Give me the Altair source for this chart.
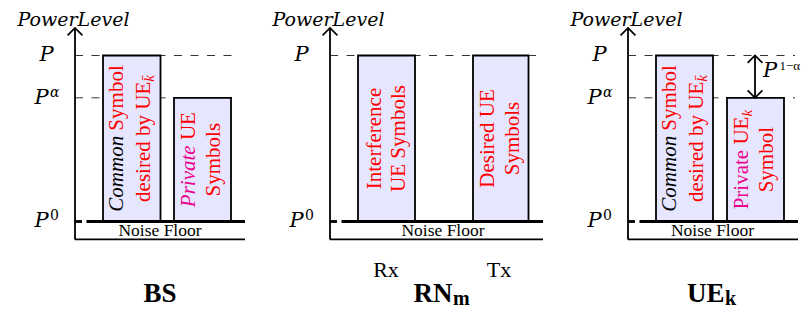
import altair as alt
import pandas as pd

# ---------------- data ----------------
panels = ["BS", "RN", "UE"]
axis_x = [75, 330, 628]          # position of each panel's power axis
floor_end = [245, 543, 798]      # right end of noise-floor lines
dash_end = [240, 543, 795]       # right end of dashed level lines

level_vals = {"P0": 0.0, "Palpha": 0.745, "P": 1.0}
floor_bottom = -0.108
axis_top = 1.166

bar_x1 = [103, 174, 358, 473, 656, 727]
bar_x2 = [160.5, 231, 415, 528.5, 713, 784]
bar_level = [1.0, 0.745, 1.0, 1.0, 1.0, 0.745]

# dashed level lines (panel index, level)
dash_panel = [0, 0, 1, 2, 2]
dash_level = [1.0, 0.745, 1.0, 1.0, 0.745]

# level labels on the axes
label_panel = [0, 0, 0, 1, 1, 2, 2, 2]
label_level = [1.0, 0.745, 0.0, 1.0, 0.0, 1.0, 0.745, 0.0]
label_sup = ["", "α", "0", "", "0", "", "α", "0"]

noise_x = [160, 443, 712.5]
title_main = ["BS", "RN", "UE"]
title_sub = ["", "m", "k"]
title_x = [160, 452.5, 724.5]
rxtx_labels = ["Rx", "Tx"]
rxtx_x = [386, 499]

# text inside each bar: (baseline offset from bar left, [(text, style, colour)])
common_bar = [(20, [("Common", "i", "k"), (" Symbol", "r", "r")]),
              (47, [("desired by UE", "r", "r"), ("k\u0304", "si", "r")])]
bar_text = [
    common_bar,
    [(21, [("Private", "i", "m"), (" UE", "r", "r")]), (46, [("Symbols", "r", "r")])],
    [(23, [("Interference", "r", "r")]), (46.5, [("UE Symbols", "r", "r")])],
    [(20.5, [("Desired UE", "r", "r")]), (45.5, [("Symbols", "r", "r")])],
    common_bar,
    [(21, [("Private", "r", "m"), (" UE", "r", "r"), ("k", "si", "r")]), (46, [("Symbol", "r", "r")])],
]

# ---------------- geometry helpers ----------------
Y_DOMAIN = [-0.5211, 1.2861]
PX = 300 / (Y_DOMAIN[1] - Y_DOMAIN[0])     # pixels per power unit
FLOOR_IMG = 221.5                          # picture row of the P0 level
SERIF = "Liberation Serif"
MATH = "DejaVu Serif"
COLORS = {"k": "#000000", "r": "#FF0000", "m": "#EC008C"}

TR = {' ': .25, 'C': .667, 'D': .722, 'E': .611, 'I': .333, 'N': .722, 'P': .556, 'R': .667,
      'S': .556, 'T': .611, 'U': .722, 'a': .444, 'b': .5, 'c': .444, 'd': .5, 'e': .444,
      'f': .333, 'i': .278, 'k': .5, 'l': .278, 'm': .778, 'n': .5, 'o': .5, 'r': .333,
      's': .389, 't': .278, 'v': .5, 'x': .5, 'y': .5}
TI = {'C': .667, 'P': .611, 'a': .5, 'e': .444, 'i': .278, 'k': .444, 'm': .722, 'n': .5,
      'o': .5, 'r': .389, 't': .278, 'v': .444}


def tw(s, italic, size):
    tot = 0
    for c in s:
        if c == '\u0304':
            continue
        tot += (TI.get(c, TR.get(c, .5)) if italic else TR.get(c, .5))
    return tot * size


def px2v(p):
    return p / PX


def row2v(r):
    return (FLOOR_IMG - r) / PX


texts = []


def add(x, v, text, font=SERIF, size=21, color="#000000", style="normal", weight="normal",
        align="center", baseline="middle", angle=0):
    texts.append(dict(x=x, y=v, text=text, font=font, size=size, color=color, style=style,
                      weight=weight, align=align, baseline=baseline, angle=angle))


# bar texts (rotated, reading bottom to top)
for b in range(len(bar_x1)):
    lev = bar_level[b]
    for off, pieces in bar_text[b]:
        widths = []
        for t, st, col in pieces:
            it = st in ("i", "si")
            sz = 15 if st == "si" else 21
            widths.append(tw(t, it, sz))
        total = sum(widths)
        cum = 0
        for (t, st, col), w in zip(pieces, widths):
            it = st in ("i", "si")
            sz = 15 if st == "si" else 21
            lead = tw(t[:len(t) - len(t.lstrip())], it, sz)
            pos = -total / 2 + cum + lead
            add(bar_x1[b] + off + (4 if st == "si" else 0), lev / 2 + px2v(pos), t.strip(),
                size=sz, color=COLORS[col], style="italic" if it else "normal",
                align="left", baseline="alphabetic", angle=270)
            cum += w

# level labels
for p, lev, sup in zip(label_panel, label_level, label_sup):
    ax = axis_x[p]
    if sup == "":
        add(ax - 28.5, lev, "P", font=MATH, size=21, style="italic")
    else:
        add(ax - 33.5, lev, "P", font=MATH, size=21, style="italic")
        add(ax - 25, lev + px2v(1), sup, font=MATH, size=14,
            style="italic" if sup == "α" else "normal", align="left", baseline="alphabetic")

# axis titles, noise floor, panel titles
for i in range(3):
    add(axis_x[i] - 1.5, row2v(26.5), "PowerLevel", font=MATH, size=19,
        style="italic", baseline="alphabetic")
    add(noise_x[i], row2v(231.5), "Noise Floor", size=17.5)
    if title_sub[i] == "":
        add(title_x[i], row2v(302.5), title_main[i], size=27, weight="bold", baseline="alphabetic")
    else:
        add(title_x[i], row2v(302.5), title_main[i], size=27, weight="bold", align="right",
            baseline="alphabetic")
        add(title_x[i] + 0.5, row2v(305), title_sub[i], size=20, weight="bold", align="left",
            baseline="alphabetic")
for lab, x in zip(rxtx_labels, rxtx_x):
    add(x, row2v(277), lab, size=22, baseline="alphabetic")

# P^(1-alpha) label
arrow_x = 755
add(763, row2v(71.5), "P", font=MATH, size=21, style="italic", align="left")
add(779.5, row2v(70.5), "1−α", font=SERIF, size=13, align="left", baseline="alphabetic")

# ---------------- tables ----------------
bars = pd.DataFrame({"x": bar_x1, "x2": bar_x2, "y": bar_level, "y2": [0.0] * len(bar_x1)})

dash_df = pd.DataFrame({
    "x": [axis_x[p] for p in dash_panel],
    "x2": [dash_end[p] for p in dash_panel],
    "y": dash_level, "y2": dash_level})

thick_rows = []
for i in range(3):
    thick_rows.append(dict(x=axis_x[i], x2=axis_x[i] + 7, y=0.0, y2=0.0))
    thick_rows.append(dict(x=axis_x[i] + 11.5, x2=floor_end[i], y=0.0, y2=0.0))
thick_df = pd.DataFrame(thick_rows)

axis_rows = []
for i in range(3):
    axis_rows.append(dict(x=axis_x[i], x2=axis_x[i], y=floor_bottom, y2=axis_top))
    axis_rows.append(dict(x=axis_x[i], x2=floor_end[i], y=floor_bottom, y2=floor_bottom))
axis_rows.append(dict(x=arrow_x, x2=arrow_x, y=level_vals["Palpha"], y2=level_vals["P"]))
axis_df = pd.DataFrame(axis_rows)

up_heads = pd.DataFrame({"x": axis_x + [arrow_x], "y": [axis_top] * 3 + [level_vals["P"]]})
down_heads = pd.DataFrame({"x": [arrow_x], "y": [level_vals["Palpha"]]})

text_df = pd.DataFrame(texts)

# ---------------- chart ----------------
xs = alt.Scale(domain=[8, 803], nice=False, zero=False)
ys = alt.Scale(domain=Y_DOMAIN, nice=False, zero=False)


def X(f):
    return alt.X(f, type="quantitative", scale=xs, axis=None)


def Y(f):
    return alt.Y(f, type="quantitative", scale=ys, axis=None)


layers = []
layers.append(alt.Chart(dash_df).mark_rule(strokeWidth=1, color="#333333", strokeDash=[8, 8.5]).encode(
    x=X("x"), x2=alt.X2("x2"), y=Y("y"), y2=alt.Y2("y2")))
layers.append(alt.Chart(bars).mark_rect(fill="#E6E6FF", stroke="#000000", strokeWidth=1.8).encode(
    x=X("x"), x2=alt.X2("x2"), y=Y("y"), y2=alt.Y2("y2")))
layers.append(alt.Chart(thick_df).mark_rule(strokeWidth=2.8, color="#000000").encode(
    x=X("x"), x2=alt.X2("x2"), y=Y("y"), y2=alt.Y2("y2")))
layers.append(alt.Chart(axis_df).mark_rule(strokeWidth=1.8, color="#000000").encode(
    x=X("x"), x2=alt.X2("x2"), y=Y("y"), y2=alt.Y2("y2")))
layers.append(alt.Chart(up_heads).mark_point(shape="M-1,1L0,0L1,1", size=220, filled=False,
                                             strokeWidth=1.7, color="#000000", opacity=1).encode(
    x=X("x"), y=Y("y")))
layers.append(alt.Chart(down_heads).mark_point(shape="M-1,-1L0,0L1,-1", size=220, filled=False,
                                               strokeWidth=1.7, color="#000000", opacity=1).encode(
    x=X("x"), y=Y("y")))

groups = text_df.groupby(["font", "style", "weight", "align", "baseline"], sort=False)
for (font, style, weight, align, baseline), g in groups:
    layers.append(alt.Chart(g.reset_index(drop=True)).mark_text(
        font=font, fontStyle=style, fontWeight=weight, align=align, baseline=baseline).encode(
        x=X("x"), y=Y("y"), text=alt.Text("text:N"),
        color=alt.Color("color:N", scale=None),
        size=alt.Size("size:Q", scale=None),
        angle=alt.Angle("angle:Q", scale=None)))

chart = alt.layer(*layers).properties(
    width=795, height=300, padding=0,
    autosize=alt.AutoSizeParams(type="none"),
    background="white",
).configure_view(stroke=None)

chart.save("out.html", embed_options={"renderer": "svg", "actions": False})
